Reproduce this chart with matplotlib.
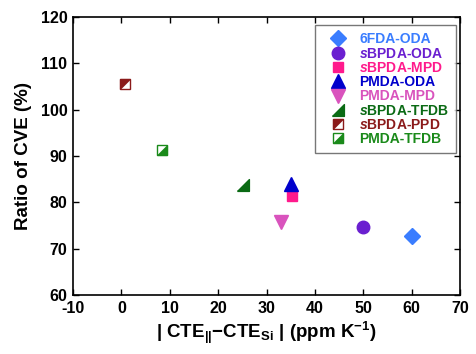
import matplotlib
matplotlib.use("Agg")
import matplotlib.pyplot as plt
from matplotlib.legend_handler import HandlerTuple

plt.rcParams['font.family'] = ['Liberation Sans', 'DejaVu Sans']
plt.rcParams['font.weight'] = 'bold'
plt.rcParams['axes.labelweight'] = 'bold'
plt.rcParams['axes.unicode_minus'] = False
plt.rcParams['mathtext.fontset'] = 'custom'
plt.rcParams['mathtext.rm'] = 'Liberation Sans:bold'
plt.rcParams['mathtext.bf'] = 'Liberation Sans:bold'
plt.rcParams['mathtext.it'] = 'Liberation Sans:italic:bold'
plt.rcParams['mathtext.default'] = 'bf'

# polymer samples
names = ["6FDA-ODA", "sBPDA-ODA", "sBPDA-MPD", "PMDA-ODA",
         "PMDA-MPD", "sBPDA-TFDB", "sBPDA-PPD", "PMDA-TFDB"]
labels = ["6FDA-ODA", r"$\it{s}$BPDA-ODA", r"$\it{s}$BPDA-MPD", "PMDA-ODA",
          "PMDA-MPD", r"$\it{s}$BPDA-TFDB", r"$\it{s}$BPDA-PPD", "PMDA-TFDB"]
cte_diff = [60.1, 50.0, 35.3, 35.0, 33.1, 25.1, 0.7, 8.3]
cve_ratio = [72.7, 74.7, 81.3, 83.9, 75.8, 83.7, 105.5, 91.3]
colors = ["#3a7dff", "#6a1fd0", "#ff1a8c", "#0000cc",
          "#d953bd", "#0a6a14", "#8b1a1a", "#1a8a1a"]

# custom marker shapes
tri_lr = [(-1, -1), (1, -1), (1, 1), (-1, -1)]      # right angle bottom-right
tri_ul = [(-1, -1), (-1, 1), (1, 1), (-1, -1)]      # upper-left half
half_lr = [(-1, -1), (1, -1), (1, 1), (-1, -1)]     # lower-right half

fig = plt.figure(figsize=(4.76, 3.54), dpi=100)
ax = fig.add_axes([73 / 476, 1 - 295 / 354, 387 / 476, 278 / 354])

handles = []
for i, name in enumerate(names):
    x, y, c = cte_diff[i], cve_ratio[i], colors[i]
    if name == "6FDA-ODA":
        h, = ax.plot(x, y, 'D', ms=8.5, color=c, mec=c)
    elif name == "sBPDA-ODA":
        h, = ax.plot(x, y, 'o', ms=9, color=c, mec=c)
    elif name == "sBPDA-MPD":
        h, = ax.plot(x, y, 's', ms=7.5, color=c, mec=c)
    elif name == "PMDA-ODA":
        h, = ax.plot(x, y, '^', ms=10, color=c, mec=c)
    elif name == "PMDA-MPD":
        h, = ax.plot(x, y, 'v', ms=10, color=c, mec=c)
    elif name == "sBPDA-TFDB":
        h, = ax.plot(x, y, marker=tri_lr, ms=8.5, color=c, mec=c, ls='none')
    else:
        half = tri_ul if name == "sBPDA-PPD" else half_lr
        h1, = ax.plot(x, y, 's', ms=7.5, mfc='white', mec=c, mew=1.0)
        h2, = ax.plot(x, y, marker=half, ms=7.5, color=c, mec=c, mew=0.5, ls='none')
        h = (h1, h2)
    handles.append(h)

ax.set_xlim(-10, 70)
ax.set_ylim(60, 120)
ax.set_xticks(range(-10, 71, 10))
ax.set_yticks(range(60, 121, 10))
ax.tick_params(direction='in', length=4, width=1, top=True, right=True,
               labelsize=11.5, pad=4)
for lbl in ax.get_xticklabels() + ax.get_yticklabels():
    lbl.set_fontweight('bold')
for s in ax.spines.values():
    s.set_linewidth(1.2)

ax.set_xlabel(r"| CTE$_{||}$$-$CTE$_{Si}$ | (ppm K$^{-1}$)", fontsize=13.5, labelpad=3)
ax.set_ylabel("Ratio of CVE (%)", fontsize=13.5, labelpad=6)

leg = ax.legend(handles, labels, loc='upper right', bbox_to_anchor=(0.99, 0.97),
                handler_map={tuple: HandlerTuple(ndivide=1)},
                fontsize=10, frameon=True, fancybox=False, edgecolor='#555555',
                handlelength=2.4, handletextpad=0.3, labelspacing=0.02,
                borderpad=0.5, borderaxespad=0.0)
leg.get_frame().set_linewidth(1.0)
for t, c in zip(leg.get_texts(), colors):
    t.set_color(c)

fig.savefig("out.png", dpi=100)
